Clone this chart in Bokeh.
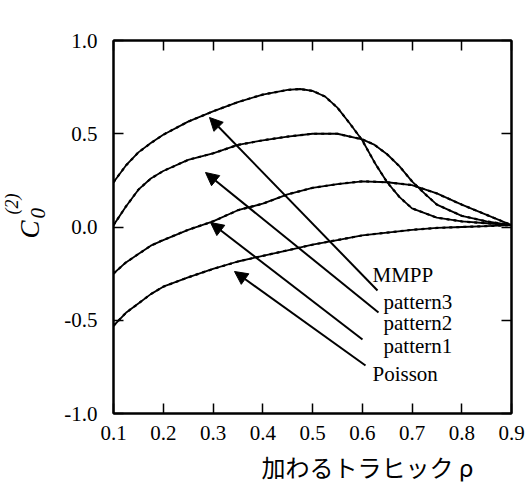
import math
from bokeh.plotting import figure
from bokeh.models import Arrow, NormalHead, Label, LinearAxis, FixedTicker
from bokeh.embed import file_html
from bokeh.resources import INLINE

# ---- data ----
x_p3 = [0.10, 0.125, 0.15, 0.175, 0.20, 0.25, 0.30, 0.35, 0.40, 0.45, 0.475, 0.50, 0.525, 0.55, 0.575, 0.60, 0.625, 0.65, 0.675, 0.70, 0.75, 0.80, 0.85, 0.90]
y_p3 = [0.24, 0.33, 0.40, 0.45, 0.495, 0.565, 0.62, 0.67, 0.71, 0.735, 0.74, 0.73, 0.70, 0.64, 0.555, 0.465, 0.345, 0.24, 0.16, 0.10, 0.05, 0.03, 0.02, 0.01]

x_p2 = [0.10, 0.125, 0.15, 0.175, 0.20, 0.25, 0.30, 0.35, 0.40, 0.45, 0.50, 0.55, 0.60, 0.625, 0.65, 0.675, 0.70, 0.725, 0.75, 0.80, 0.85, 0.90]
y_p2 = [0.01, 0.11, 0.20, 0.26, 0.30, 0.36, 0.395, 0.44, 0.465, 0.485, 0.50, 0.50, 0.47, 0.44, 0.39, 0.325, 0.245, 0.18, 0.12, 0.06, 0.03, 0.01]

x_p1 = [0.10, 0.125, 0.15, 0.175, 0.20, 0.25, 0.30, 0.35, 0.40, 0.45, 0.50, 0.55, 0.60, 0.65, 0.70, 0.75, 0.80, 0.85, 0.90]
y_p1 = [-0.25, -0.19, -0.145, -0.10, -0.07, -0.015, 0.03, 0.09, 0.125, 0.175, 0.21, 0.23, 0.245, 0.24, 0.225, 0.18, 0.12, 0.065, 0.01]

x_poi = [0.10, 0.125, 0.15, 0.175, 0.20, 0.25, 0.30, 0.35, 0.40, 0.45, 0.50, 0.55, 0.60, 0.65, 0.70, 0.75, 0.80, 0.85, 0.90]
y_poi = [-0.53, -0.46, -0.41, -0.36, -0.32, -0.27, -0.225, -0.185, -0.155, -0.125, -0.095, -0.07, -0.045, -0.03, -0.015, -0.005, 0.0, 0.005, 0.01]

series_names = ["MMPP pattern3", "pattern2", "pattern1", "Poisson"]
label_texts = ["MMPP", "pattern3", "pattern2", "pattern1", "Poisson"]

x_ticks = [0.1, 0.2, 0.3, 0.4, 0.5, 0.6, 0.7, 0.8, 0.9]
x_tick_labels = ["0.1", "0.2", "0.3", "0.4", "0.5", "0.6", "0.7", "0.8", "0.9"]
y_ticks = [-1.0, -0.5, 0.0, 0.5, 1.0]
y_tick_labels = ["-1.0", "-0.5", "0.0", "0.5", "1.0"]

x_title = "加わるトラヒック ρ"
y_title_parts = ["C", "0", "(2)"]

# ---- layout ----
W, H = 526, 500
FL, FR, FT, FB = 113, 511, 40, 413
X0, X1, Y0, Y1 = 0.1, 0.9, -1.0, 1.0


def px2x(px):
    return X0 + (px - FL) / (FR - FL) * (X1 - X0)


def px2y(py):
    return Y1 - (py - FT) / (FB - FT) * (Y1 - Y0)


p = figure(width=W, height=H, x_range=(X0, X1), y_range=(Y0, Y1),
           output_backend="svg", toolbar_location=None,
           min_border_left=FL, min_border_right=W - FR,
           min_border_top=FT, min_border_bottom=H - FB)
p.xgrid.visible = False
p.ygrid.visible = False
p.outline_line_color = "black"
p.outline_line_width = 2
p.background_fill_color = "white"
p.border_fill_color = "white"

SERIF = "Liberation Serif"

for ax, ticks, labels in ((p.xaxis[0], x_ticks, x_tick_labels), (p.yaxis[0], y_ticks, y_tick_labels)):
    ax.ticker = FixedTicker(ticks=ticks)
    ax.major_label_overrides = {t: l for t, l in zip(ticks, labels)}
    ax.major_tick_in = 10
    ax.major_tick_out = 0
    ax.minor_tick_line_color = None
    ax.axis_line_width = 2
    ax.major_tick_line_width = 1.5
    ax.major_label_text_font = SERIF
    ax.major_label_text_font_size = "21px"
    ax.major_label_text_color = "black"
p.xaxis[0].major_label_standoff = 12
p.yaxis[0].major_label_standoff = 16

# mirrored ticks on top and right (no labels)
for loc, ticks in (("above", x_ticks), ("right", y_ticks)):
    ax = LinearAxis(ticker=FixedTicker(ticks=ticks), major_tick_in=10, major_tick_out=0,
                    minor_tick_line_color=None, major_label_text_font_size="0px",
                    major_label_text_color=None, major_label_standoff=0,
                    axis_line_width=2, major_tick_line_width=1.5)
    p.add_layout(ax, loc)

# curves: analysis (solid) and simulation (dashed) overlaid
for xs, ys in ((x_p3, y_p3), (x_p2, y_p2), (x_p1, y_p1), (x_poi, y_poi)):
    p.line(xs, ys, line_color="black", line_width=1.8)
    p.line(xs, ys, line_color="black", line_width=2.2, line_dash="3 4")

# arrows (tail -> head), positions in pixels of the reference
arrows = [((377, 290), (209, 117)),
          ((378, 312), (205, 172)),
          ((362, 339), (210, 222)),
          ((365, 365), (234, 271))]
for (tx, ty), (hx, hy) in arrows:
    p.add_layout(Arrow(end=NormalHead(size=13, fill_color="black", line_color="black", line_width=1),
                       x_start=px2x(tx), y_start=px2y(ty), x_end=px2x(hx), y_end=px2y(hy),
                       line_width=2, line_color="black"))

# series labels
label_pos = [(372, 274), (383, 301), (383, 322), (383, 345), (372, 373)]
for txt, (lx, ly) in zip(label_texts, label_pos):
    p.add_layout(Label(x=px2x(lx), y=px2y(ly), text=txt, text_font=SERIF,
                       text_font_size="21px", text_align="left", text_baseline="alphabetic",
                       text_color="black"))

# x axis title (placed in the bottom panel so it is not clipped to the frame)
p.add_layout(Label(x=px2x(367), y=px2y(466), text=x_title, text_font="Noto Sans CJK JP",
                   text_font_size="24px", text_align="center", text_baseline="middle",
                   text_color="black"), "below")

# y axis title C_0^(2), rotated; pieces placed in side panels (not clipped to the frame)
ang = math.pi / 2
ytitle_specs = [(y_title_parts[0], 29, 238, "27px", "left"),
                (y_title_parts[1], 37, 218, "21px", "left"),
                (y_title_parts[2], 11, 214, "18px", "above")]
for txt, lx, ly, fs, panel in ytitle_specs:
    p.add_layout(Label(x=px2x(lx), y=px2y(ly), text=txt, angle=ang, text_font=SERIF,
                       text_font_style="italic", text_font_size=fs,
                       text_align="left", text_baseline="alphabetic", text_color="black"), panel)

open("out.html", "w").write(file_html(p, INLINE))
